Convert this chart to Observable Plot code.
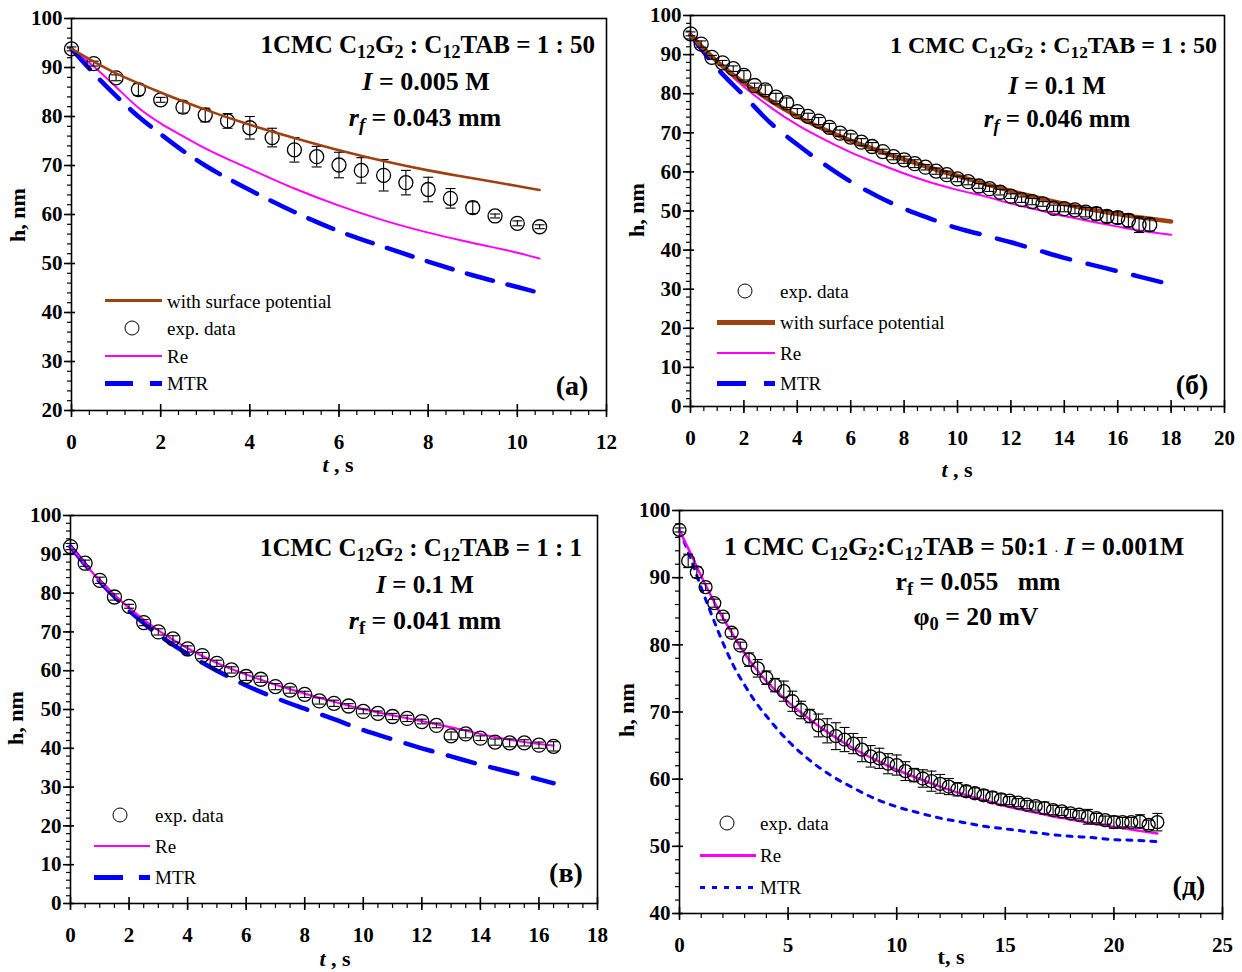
<!DOCTYPE html>
<html><head><meta charset="utf-8">
<script src="https://cdn.jsdelivr.net/npm/d3@7"></script>
<script src="https://cdn.jsdelivr.net/npm/@observablehq/plot@0.6"></script>
<style>
body{margin:0;background:#fff;}
#root{position:relative;width:1242px;height:972px;font-family:"Liberation Serif","Times New Roman",serif;color:#000;overflow:hidden;}
.panel{position:absolute;}
.o{position:absolute;white-space:nowrap;line-height:1;}
.c{transform:translate(-50%,-50%);}
.r{transform:translate(-100%,-50%);}
.l{transform:translate(0,-50%);}
.ann{font-weight:bold;font-size:25px;}
.big{font-size:26px;}
.dd{font-size:25.7px;}
.s{font-size:0.72em;vertical-align:-0.28em;line-height:0;}
.leg{font-size:19px;}
.ttl{font-weight:bold;font-size:22px;}
.yl{transform:translate(-50%,-50%) rotate(-90deg);}
.pl{font-weight:bold;font-size:28px;}
.sw{position:absolute;}
.circ{position:absolute;width:13px;height:13px;border:1.5px solid #000;border-radius:50%;transform:translate(-50%,-50%);}
</style></head>
<body><div id="root">
<div class="panel" id="pa" style="left:0;top:0"></div>
<div class="panel" id="pb" style="left:620px;top:0"></div>
<div class="panel" id="pc" style="left:0;top:490px"></div>
<div class="panel" id="pd" style="left:620px;top:490px"></div>

<!-- panel a text -->
<div class="o r ann" style="left:595px;top:44px">1CMC C<span class="s">12</span>G<span class="s">2</span> : C<span class="s">12</span>TAB = 1 : 50</div>
<div class="o c ann big" style="left:426px;top:82px"><i>I</i> = 0.005 M</div>
<div class="o c ann big" style="left:425px;top:118px"><i>r<span class="s">f</span></i> = 0.043 mm</div>
<div class="o c pl" style="left:572px;top:386px">(a)</div>
<div class="o yl ttl" style="left:18px;top:215px">h, nm</div>
<div class="o c ttl" style="left:338px;top:465px"><i>t</i> , s</div>
<div class="sw" style="left:105px;top:299px;width:57px;height:3px;background:#a0400f"></div>
<div class="o l leg" style="left:167px;top:301px">with surface potential</div>
<div class="circ" style="left:132px;top:328px"></div>
<div class="o l leg" style="left:167px;top:328px">exp. data</div>
<div class="sw" style="left:105px;top:355px;width:57px;height:2px;background:#ff00ff"></div>
<div class="o l leg" style="left:167px;top:356px">Re</div>
<div class="sw" style="left:105px;top:381px;width:28px;height:5px;background:#0000ff"></div>
<div class="sw" style="left:150px;top:381px;width:12px;height:5px;background:#0000ff"></div>
<div class="o l leg" style="left:167px;top:383px">MTR</div>

<!-- panel b text -->
<div class="o r ann" style="left:1217px;top:45px;font-size:24px">1 CMC C<span class="s">12</span>G<span class="s">2</span> : C<span class="s">12</span>TAB = 1 : 50</div>
<div class="o c ann" style="left:1057px;top:85px"><i>I</i> = 0.1 M</div>
<div class="o c ann" style="left:1057px;top:118px"><i>r<span class="s">f</span></i> = 0.046 mm</div>
<div class="o c pl" style="left:1192px;top:385px">(б)</div>
<div class="o yl ttl" style="left:637px;top:210px">h, nm</div>
<div class="o c ttl" style="left:957px;top:470px"><i>t</i> , s</div>
<div class="circ" style="left:745px;top:291px"></div>
<div class="o l leg" style="left:780px;top:291px">exp. data</div>
<div class="sw" style="left:717px;top:320px;width:58px;height:4.5px;background:#a0400f"></div>
<div class="o l leg" style="left:780px;top:322px">with surface potential</div>
<div class="sw" style="left:717px;top:352px;width:58px;height:2px;background:#ff00ff"></div>
<div class="o l leg" style="left:780px;top:353px">Re</div>
<div class="sw" style="left:717px;top:381px;width:29px;height:5px;background:#0000ff"></div>
<div class="sw" style="left:764px;top:381px;width:11px;height:5px;background:#0000ff"></div>
<div class="o l leg" style="left:780px;top:383px">MTR</div>

<!-- panel c text -->
<div class="o r ann" style="left:582px;top:547px">1CMC C<span class="s">12</span>G<span class="s">2</span> : C<span class="s">12</span>TAB = 1 : 1</div>
<div class="o c ann" style="left:425px;top:584px"><i>I</i> = 0.1 M</div>
<div class="o c ann big" style="left:425px;top:621px"><i>r</i><span class="s">f</span> = 0.041 mm</div>
<div class="o c pl" style="left:566px;top:873px">(в)</div>
<div class="o yl ttl" style="left:16px;top:718px">h, nm</div>
<div class="o c ttl" style="left:335px;top:959px"><i>t</i> , s</div>
<div class="circ" style="left:120px;top:815px"></div>
<div class="o l leg" style="left:155px;top:815px">exp. data</div>
<div class="sw" style="left:94px;top:845px;width:56px;height:2px;background:#ff00ff"></div>
<div class="o l leg" style="left:155px;top:846px">Re</div>
<div class="sw" style="left:94px;top:875px;width:29px;height:5px;background:#0000ff"></div>
<div class="sw" style="left:139px;top:875px;width:11px;height:5px;background:#0000ff"></div>
<div class="o l leg" style="left:155px;top:877px">MTR</div>

<!-- panel d text -->
<div class="o l ann dd" style="left:724px;top:547px">1 CMC C<span class="s">12</span>G<span class="s">2</span>:C<span class="s">12</span>TAB = 50:1 <span style="font-size:10px">·</span> <i>I</i> = 0.001M</div>
<div class="o c ann dd" style="left:978px;top:582px">r<span class="s">f</span> = 0.055 &nbsp; mm</div>
<div class="o c ann dd" style="left:976px;top:617px">φ<span class="s">0</span> = 20 mV</div>
<div class="o c pl" style="left:1189px;top:886px">(д)</div>
<div class="o yl ttl" style="left:627px;top:710px">h, nm</div>
<div class="o c ttl" style="left:951px;top:957px">t, s</div>
<div class="circ" style="left:727px;top:823px"></div>
<div class="o l leg" style="left:760px;top:823px">exp. data</div>
<div class="sw" style="left:700px;top:854px;width:56px;height:2.5px;background:#ff00ff"></div>
<div class="o l leg" style="left:760px;top:855px">Re</div>
<div class="sw" style="left:700px;top:885.5px;width:56px;height:3px;background:repeating-linear-gradient(90deg,#0000ff 0 5px,transparent 5px 12px)"></div>
<div class="o l leg" style="left:760px;top:887px">MTR</div>
</div>
<script>
// ---------- Panel (a): C12G2:C12TAB = 1:50, I = 0.005 M ----------
const tExpA = [0,0.5,1,1.5,2,2.5,3,3.5,4,4.5,5,5.5,6,6.5,7,7.5,8,8.5,9,9.5,10,10.5];
const hExpA = [93.8,90.8,87.9,85.5,83.4,81.9,80.3,79.1,77.7,75.7,73.2,71.8,70.1,69.0,68.0,66.5,65.1,63.3,61.4,59.7,58.2,57.5];
const errA  = [0.4,0.5,0.6,1.2,0.5,1.2,1.4,1.5,2.3,1.9,2.5,2.1,2.6,2.6,3.2,2.5,2.5,2.0,1.2,0.4,0.5,0.4];
const tFitA = [0,0.5,1,1.5,2,2.5,3,4,5,6,7,8,9,10,10.5];
const potA  = [93.8,91.2,88.8,86.8,84.9,83.1,81.4,78.3,75.6,73.1,70.9,69.0,67.4,65.8,65.0];
const reA   = [93.8,90.2,86.0,81.8,78.6,76.0,73.5,69.3,65.3,61.8,58.8,56.3,54.2,52.2,51.0];
const mtrA  = [93.8,88.8,84.2,80.0,76.4,73.0,70.0,65.0,60.5,56.6,53.4,50.4,47.6,45.2,44.0];
const xTicksA = [0,2,4,6,8,10,12];
const yTicksA = [20,30,40,50,60,70,80,90,100];

// ---------- Panel (б): C12G2:C12TAB = 1:50, I = 0.1 M ----------
const tExpB = [0,0.4,0.8,1.2,1.6,2,2.4,2.8,3.2,3.6,4,4.4,4.8,5.2,5.6,6,6.4,6.8,7.2,7.6,8,8.4,8.8,9.2,9.6,10,10.4,10.8,11.2,11.6,12,12.4,12.8,13.2,13.6,14,14.4,14.8,15.2,15.6,16,16.4,16.8,17.2];
const hExpB = [95.3,92.7,89.3,87.9,86.4,84.7,82.1,81.0,79.1,77.7,75.4,74.2,73.0,71.4,69.9,68.9,67.6,66.5,65.2,63.9,63.1,62.1,61.2,60.2,59.3,58.2,57.5,56.4,55.7,54.8,53.8,52.9,52.4,51.8,50.7,50.6,50.3,49.7,49.3,48.6,48.3,47.6,46.5,46.5];
const errB  = [0.5,0.8,0.5,0.6,0.7,1.2,0.6,1.2,1.0,1.2,0.8,0.8,0.9,1.0,0.8,0.8,0.9,1.0,0.6,0.8,0.9,1.0,0.7,0.8,0.9,0.7,0.8,0.6,0.7,0.7,0.6,0.7,0.8,0.6,0.8,0.8,1.0,1.2,1.6,1.5,1.5,1.6,2.0,1.6];
const tFitB = [0,1,2,3,4,5,6,7,8,9,10,11,12,13,14,15,16,17,18];
const potB  = [95,88.2,82.8,78.2,74.2,70.9,68.0,65.5,63.2,61.0,59.0,57.0,55.1,53.4,51.8,50.4,49.2,48.2,47.3];
const reB   = [95,88.0,81.8,76.5,72.0,68.3,65.0,62.2,59.6,57.3,55.4,53.8,51.9,50.3,48.7,47.3,46.0,44.8,43.9];
const mtrB  = [95,86.5,79.5,72.5,67.0,62.0,57.5,53.8,50.6,48.0,45.6,43.8,42.0,40.0,38.0,36.3,34.6,32.9,31.2];
const xTicksB = [0,2,4,6,8,10,12,14,16,18,20];
const yTicksB = [0,10,20,30,40,50,60,70,80,90,100];

// ---------- Panel (в): C12G2:C12TAB = 1:1, I = 0.1 M ----------
const tExpC = [0,0.5,1,1.5,2,2.5,3,3.5,4,4.5,5,5.5,6,6.5,7,7.5,8,8.5,9,9.5,10,10.5,11,11.5,12,12.5,13,13.5,14,14.5,15,15.5,16,16.5];
const hExpC = [92.0,87.7,83.3,79.0,76.6,72.4,70.0,68.2,65.6,63.9,61.9,60.2,58.5,57.8,55.9,55.0,53.9,52.2,51.6,50.9,49.5,49.0,48.2,47.7,46.9,45.9,43.2,43.7,42.6,41.6,41.4,41.4,40.8,40.5];
const errC  = [0.8,0.8,0.8,0.8,0.5,0.8,0.8,0.8,0.8,0.8,0.8,0.8,1.0,0.8,0.8,0.8,0.8,0.8,0.8,0.6,0.6,0.6,0.8,0.8,0.6,0.6,1.0,1.0,0.6,0.8,1.0,0.8,0.8,1.2];
const tFitC = [0,1,2,3,4,5,6,7,8,9,10,11,12,13,14,15,16,16.5];
const reC   = [92,83.2,76.2,70.4,65.8,62.0,59.0,56.4,54.1,52.0,50.1,48.5,47.0,45.4,43.7,42.2,41.1,40.7];
const mtrC  = [92,83.0,75.5,69.3,64.3,60.0,56.2,53.0,50.2,47.5,44.7,42.3,40.0,37.9,35.8,33.9,32.0,31.0];
const xTicksC = [0,2,4,6,8,10,12,14,16,18];
const yTicksC = [0,10,20,30,40,50,60,70,80,90,100];

// ---------- Panel (д): C12G2:C12TAB = 50:1, I = 0.001 M ----------
const tExpD = [0,0.4,0.8,1.2,1.6,2,2.4,2.8,3.2,3.6,4,4.4,4.8,5.2,5.6,6,6.4,6.8,7.2,7.6,8,8.4,8.8,9.2,9.6,10,10.4,10.8,11.2,11.6,12,12.4,12.8,13.2,13.6,14,14.4,14.8,15.2,15.6,16,16.4,16.8,17.2,17.6,18,18.4,18.8,19.2,19.6,20,20.4,20.8,21.2,21.6,22];
const hExpD = [97.1,92.5,90.8,88.6,86.2,84.2,81.8,79.9,77.8,76.5,75.1,74.0,73.1,71.6,70.3,69.4,68.0,67.2,66.4,65.9,65.3,64.4,63.4,63.1,62.3,62.1,61.2,60.6,60.1,59.7,59.3,58.9,58.5,58.2,57.9,57.6,57.3,57.0,56.8,56.5,56.2,56.0,55.7,55.4,55.2,54.9,54.7,54.4,54.2,53.9,53.6,53.6,53.6,53.7,53.2,53.6];
const errD  = [0.3,1.0,0.8,0.5,0.6,0.5,0.6,0.5,1.0,1.3,1.0,1.0,1.5,1.5,1.3,1.0,1.7,1.8,2.0,1.8,1.5,1.8,1.6,1.5,1.5,1.5,1.4,1.0,1.3,1.5,1.4,1.2,1.0,0.8,0.8,0.8,0.8,0.8,0.6,0.6,0.6,0.6,0.9,0.7,0.6,0.6,0.6,1.1,0.7,0.6,0.9,0.7,0.7,1.0,0.7,1.3];
const tFitD = [0,0.5,1,1.5,2,2.5,3,3.5,4,5,6,7,8,9,10,11,12,13,14,15,16,17,18,19,20,21,22];
const reD   = [97,93.7,90.2,87.0,84.0,81.3,78.7,76.5,74.6,71.5,68.9,66.6,64.6,62.9,61.4,60.1,58.9,57.8,56.9,56.0,55.3,54.6,54.0,53.4,52.9,52.4,51.9];
const mtrD  = [97,93.0,88.5,84.3,80.3,76.8,74.0,71.5,69.4,65.7,62.8,60.5,58.7,57.1,55.9,55.0,54.2,53.6,53.0,52.6,52.2,51.8,51.5,51.3,51.0,50.9,50.7];
const xTicksD = [0,5,10,15,20,25];
const yTicksD = [40,50,60,70,80,90,100];

const BROWN = "#a0400f", MAGENTA = "#ff00ff", BLUE = "#0000ff";
const capSymbol = {draw(ctx){ ctx.moveTo(-5,0); ctx.lineTo(5,0); }};

function series(t, h){ return t.map((x,i)=>({t:x, h:h[i]})); }

function drawPanel(cfg){
  const {w,h,ml,mr,mt,mb} = cfg;
  const pw = w-ml-mr, ph = h-mt-mb;
  const exp = cfg.tExp.map((t,i)=>({t, h: cfg.hExp[i], e: cfg.err[i]}));
  const xMin = d3.range(cfg.xDomain[0], cfg.xDomain[1]+1e-9, cfg.xMinorStep).map(v=>+v.toFixed(3));
  const yMin = d3.range(cfg.yDomain[0], cfg.yDomain[1]+1e-9, cfg.yMinorStep).map(v=>+v.toFixed(3));
  const marks = [
    Plot.ruleX(xMin, {x:d=>d, insetTop: ph, insetBottom: -5, stroke:"black", strokeWidth:1.2}),
    Plot.ruleX(cfg.xTicks, {x:d=>d, insetTop: ph-6, insetBottom: -7, stroke:"black", strokeWidth:1.6}),
    Plot.ruleY(yMin, {y:d=>d, insetLeft: -4, insetRight: pw, stroke:"black", strokeWidth:1.2}),
    Plot.ruleY(cfg.yTicks, {y:d=>d, insetLeft: -7, insetRight: pw-4, stroke:"black", strokeWidth:1.6}),
    Plot.frame({stroke:"black", strokeWidth:1.6}),
    Plot.axisX({ticks: cfg.xTicks, tickSize:0, tickPadding:24, label:null, tickFormat: d=>String(d)}),
    Plot.axisY({ticks: cfg.yTicks, tickSize:0, tickPadding:9, label:null, tickFormat: d=>String(d)})
  ];
  for (const c of cfg.curves) {
    marks.push(Plot.line(series(c.t, c.h), {x:"t", y:"h", stroke:c.stroke, strokeWidth:c.width, strokeDasharray:c.dash || null, curve:"monotone-x"}));
  }
  marks.push(Plot.ruleX(exp, {x:"t", y1:d=>d.h-d.e, y2:d=>d.h+d.e, stroke:"black", strokeWidth:1.1}));
  marks.push(Plot.dot(exp, {x:"t", y:d=>d.h-d.e, symbol:capSymbol, r:5, stroke:"black", strokeWidth:1.1, fill:"none"}));
  marks.push(Plot.dot(exp, {x:"t", y:d=>d.h+d.e, symbol:capSymbol, r:5, stroke:"black", strokeWidth:1.1, fill:"none"}));
  marks.push(Plot.dot(exp, {x:"t", y:"h", r:cfg.r, stroke:"black", strokeWidth:1.3, fill:"none"}));
  for (const c of (cfg.overCurves||[])) {
    marks.push(Plot.line(series(c.t, c.h), {x:"t", y:"h", stroke:c.stroke, strokeWidth:c.width, strokeDasharray:c.dash || null, curve:"monotone-x"}));
  }
  const svg = Plot.plot({
    width:w, height:h, marginLeft:ml, marginRight:mr, marginTop:mt, marginBottom:mb,
    x:{domain:cfg.xDomain}, y:{domain:cfg.yDomain},
    style:{fontFamily:"Liberation Serif, Times New Roman, serif", fontSize:"21px", fontWeight:"bold", color:"black", background:"transparent", overflow:"visible"},
    marks
  });
  document.getElementById(cfg.id).appendChild(svg);
}

drawPanel({id:"pa", w:620, h:480, ml:71, mr:14, mt:18, mb:70,
  xDomain:[0,12], yDomain:[20,100], xTicks:xTicksA, yTicks:yTicksA, xMinorStep:0.4, yMinorStep:2, r:7,
  tExp:tExpA, hExp:hExpA, err:errA,
  curves:[
    {t:tFitA, h:reA, stroke:MAGENTA, width:2},
    {t:tFitA, h:mtrA, stroke:BLUE, width:4.5, dash:"27,15"}
  ],
  overCurves:[{t:tFitA, h:potA, stroke:BROWN, width:2.6}]
});
drawPanel({id:"pb", w:622, h:490, ml:70, mr:18, mt:15, mb:84,
  xDomain:[0,20], yDomain:[0,100], xTicks:xTicksB, yTicks:yTicksB, xMinorStep:0.5, yMinorStep:2, r:7,
  tExp:tExpB, hExp:hExpB, err:errB,
  curves:[
    {t:tFitB, h:mtrB, stroke:BLUE, width:4.5, dash:"29,18"},
    {t:tFitB, h:reB, stroke:MAGENTA, width:2},
    {t:tFitB, h:potB, stroke:BROWN, width:4.5}
  ]
});
drawPanel({id:"pc", w:620, h:482, ml:70, mr:23, mt:25, mb:69,
  xDomain:[0,18], yDomain:[0,100], xTicks:xTicksC, yTicks:yTicksC, xMinorStep:0.5, yMinorStep:2, r:7,
  tExp:tExpC, hExp:hExpC, err:errC,
  curves:[
    {t:tFitC, h:mtrC, stroke:BLUE, width:4.5, dash:"28,16"},
    {t:tFitC, h:reC, stroke:MAGENTA, width:2.2}
  ]
});
drawPanel({id:"pd", w:622, h:482, ml:59, mr:20, mt:20, mb:59,
  xDomain:[0,25], yDomain:[40,100], xTicks:xTicksD, yTicks:yTicksD, xMinorStep:1, yMinorStep:2, r:6.5,
  tExp:tExpD, hExp:hExpD, err:errD,
  curves:[
    {t:tFitD, h:mtrD, stroke:BLUE, width:3, dash:"5,7"},
    {t:tFitD, h:reD, stroke:MAGENTA, width:2.5}
  ]
});
</script>
</body></html>
